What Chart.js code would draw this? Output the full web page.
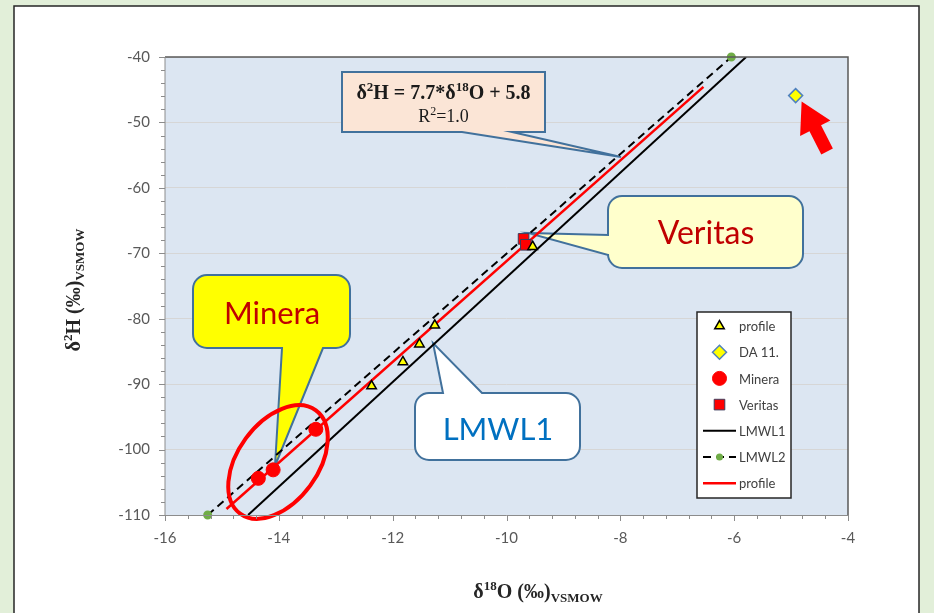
<!DOCTYPE html>
<html>
<head>
<meta charset="utf-8">
<script src="https://cdn.jsdelivr.net/npm/chart.js@4.4.1/dist/chart.umd.min.js"></script>
<style>
  html, body { margin: 0; padding: 0; background: #e2efd9; }
  canvas { display: block; }
</style>
</head>
<body>
<canvas id="c" width="934" height="613"></canvas>
<script>
// Isotope values, ‰ VSMOW: δ18O on x, δ2H on y
const profileO = [-12.37, -11.82, -11.53, -11.26, -9.54];
const profileH = [-90.3, -86.6, -83.9, -81.0, -69.0];
const da11O = [-4.92];
const da11H = [-45.9];
const mineraO = [-14.36, -14.10, -13.35];
const mineraH = [-104.4, -103.1, -96.9];
const veritasO = [-9.70, -9.66];
const veritasH = [-67.8, -68.7];
// local meteoric water lines (end points)
const lmwl1O = [-14.54, -5.79];
const lmwl1H = [-110, -40];
const lmwl2O = [-15.25, -6.05];
const lmwl2H = [-110, -40];
// profile regression δ2H = 7.7*δ18O + 5.8 (end points)
const fitO = [-14.92, -6.54];
const fitH = [-109.08, -44.56];
// axis ticks
const xTicks = [-16, -14, -12, -10, -8, -6, -4];
const yTicks = [-110, -100, -90, -80, -70, -60, -50, -40];

const pts = (xs, ys) => xs.map((x, i) => ({ x: x, y: ys[i] }));

const SANS = 'Lato, "Open Sans", sans-serif';
const SERIF = '"Liberation Serif", "DejaVu Serif", serif';
Chart.defaults.font.family = SANS;

// ---------- drawing helpers ----------
function richWidth(ctx, segs) {
  let w = 0;
  segs.forEach(s => { ctx.font = s.font; w += ctx.measureText(s.t).width; });
  return w;
}
function drawRich(ctx, segs, cx, baseline, color) {
  let x = cx - richWidth(ctx, segs) / 2;
  ctx.fillStyle = color;
  ctx.textAlign = 'left';
  ctx.textBaseline = 'alphabetic';
  segs.forEach(s => {
    ctx.font = s.font;
    ctx.fillText(s.t, x, baseline + (s.dy || 0));
    x += ctx.measureText(s.t).width;
  });
}
function callout(ctx, o) {
  const { x1, y1, x2, y2, r, side, a, b, tx, ty } = o;
  ctx.beginPath();
  ctx.moveTo(x1 + r, y1);
  if (side === 'top') { ctx.lineTo(a, y1); ctx.lineTo(tx, ty); ctx.lineTo(b, y1); }
  ctx.arcTo(x2, y1, x2, y2, r);
  ctx.arcTo(x2, y2, x1, y2, r);
  if (side === 'bottom') { ctx.lineTo(b, y2); ctx.lineTo(tx, ty); ctx.lineTo(a, y2); }
  ctx.arcTo(x1, y2, x1, y1, r);
  if (side === 'left') { ctx.lineTo(x1, b); ctx.lineTo(tx, ty); ctx.lineTo(x1, a); }
  ctx.arcTo(x1, y1, x2, y1, r);
  ctx.closePath();
  ctx.fillStyle = o.fill;
  ctx.fill();
  ctx.lineWidth = 2;
  ctx.strokeStyle = o.stroke;
  ctx.stroke();
  if (o.text) {
    ctx.font = o.font;
    ctx.fillStyle = o.color;
    ctx.textAlign = 'center';
    ctx.textBaseline = 'alphabetic';
    ctx.fillText(o.text, o.textX, o.textY);
  }
}

// ---------- plugins ----------
const frame = {
  id: 'frame',
  beforeDraw(chart) {
    const ctx = chart.ctx, ca = chart.chartArea;
    ctx.save();
    ctx.fillStyle = '#e2efd9';
    ctx.fillRect(0, 0, chart.width, chart.height);
    ctx.fillStyle = '#ffffff';
    ctx.fillRect(14, 6, 905, 620);
    ctx.strokeStyle = '#262626';
    ctx.lineWidth = 1.5;
    ctx.strokeRect(14, 6, 905, 620);
    ctx.fillStyle = '#dce6f2';
    ctx.fillRect(ca.left, ca.top, ca.right - ca.left, ca.bottom - ca.top);
    ctx.restore();
  }
};

const callouts = {
  id: 'callouts',
  beforeDatasetsDraw(chart) {
    const ctx = chart.ctx;
    ctx.save();
    // regression equation box
    callout(ctx, { x1: 342, y1: 72, x2: 545, y2: 132, r: 0, side: 'bottom', a: 462, b: 512,
      tx: 621, ty: 157, fill: '#fbe5d6', stroke: '#41719c' });
    drawRich(ctx, [
      { t: 'δ', font: 'bold 20px ' + SERIF },
      { t: '2', font: 'bold 13px ' + SERIF, dy: -8 },
      { t: 'H = 7.7*δ', font: 'bold 20px ' + SERIF },
      { t: '18', font: 'bold 13px ' + SERIF, dy: -8 },
      { t: 'O + 5.8', font: 'bold 20px ' + SERIF }
    ], 443.5, 99, '#1a1a1a');
    drawRich(ctx, [
      { t: 'R', font: '18px ' + SERIF },
      { t: '2', font: '12px ' + SERIF, dy: -7 },
      { t: '=1.0', font: '18px ' + SERIF }
    ], 443.5, 122, '#1a1a1a');

    callout(ctx, { x1: 608, y1: 196, x2: 803, y2: 268, r: 14, side: 'left', a: 235, b: 255,
      tx: 528, ty: 233, fill: '#ffffcc', stroke: '#41719c',
      text: 'Veritas', font: '32px ' + SANS, color: '#c00000', textX: 706, textY: 244 });

    callout(ctx, { x1: 193, y1: 275, x2: 350, y2: 348, r: 14, side: 'bottom', a: 282, b: 323,
      tx: 275, ty: 466, fill: '#ffff00', stroke: '#41719c',
      text: 'Minera', font: '31px ' + SANS, color: '#c00000', textX: 272, textY: 324 });

    callout(ctx, { x1: 415, y1: 393, x2: 580, y2: 460, r: 14, side: 'top', a: 443, b: 482,
      tx: 433, ty: 343, fill: '#ffffff', stroke: '#41719c',
      text: 'LMWL1', font: '31px ' + SANS, color: '#0070c0', textX: 498, textY: 440 });
    ctx.restore();
  },
  afterDatasetsDraw(chart) {
    const ctx = chart.ctx;
    const xs = chart.scales.x, ys = chart.scales.y;
    ctx.save();
    // ring around the Minera samples
    ctx.beginPath();
    ctx.ellipse(278, 462, 64, 40, -53.7 * Math.PI / 180, 0, Math.PI * 2);
    ctx.strokeStyle = '#ff0000';
    ctx.lineWidth = 4;
    ctx.stroke();

    // red arrow pointing at DA 11.
    const px = xs.getPixelForValue(da11O[0]) + 6, py = ys.getPixelForValue(da11H[0]) + 6;
    const ang = Math.atan2(49, 25);
    const ux = Math.cos(ang), uy = Math.sin(ang), vx = -uy, vy = ux;
    const P = (l, w) => [px + ux * l + vx * w, py + uy * l + vy * w];
    const poly = [P(0, 0), P(30, 17), P(30, 6.5), P(56, 6.5), P(56, -6.5), P(30, -6.5), P(30, -17)];
    ctx.beginPath();
    poly.forEach((p, i) => i ? ctx.lineTo(p[0], p[1]) : ctx.moveTo(p[0], p[1]));
    ctx.closePath();
    ctx.fillStyle = '#ff0000';
    ctx.fill();
    ctx.restore();
  },
  afterDraw(chart) {
    const ctx = chart.ctx, ca = chart.chartArea;
    const xs = chart.scales.x, ys = chart.scales.y;
    ctx.save();
    // plot-area frame
    ctx.strokeStyle = '#595959';
    ctx.lineWidth = 1.5;
    ctx.beginPath();
    ctx.moveTo(ca.left, ca.top); ctx.lineTo(ca.right, ca.top); ctx.lineTo(ca.right, ca.bottom);
    ctx.stroke();
    ctx.strokeStyle = '#8c8c8c';
    ctx.lineWidth = 1;
    ctx.beginPath();
    ctx.moveTo(ca.left, ca.top); ctx.lineTo(ca.left, ca.bottom + 0.5); ctx.lineTo(ca.right, ca.bottom + 0.5);
    ctx.stroke();
    // tick marks (minor every 0.4 ‰ on x, every 2 ‰ on y)
    ctx.beginPath();
    for (let i = 0; i <= 30; i++) {
      const v = xTicks[0] + i * 0.4;
      const x = Math.round(xs.getPixelForValue(v)) + 0.5;
      ctx.moveTo(x, ca.bottom); ctx.lineTo(x, ca.bottom + (i % 5 === 0 ? 6 : 4));
    }
    for (let i = 0; i <= 35; i++) {
      const v = yTicks[0] + i * 2;
      const y = Math.round(ys.getPixelForValue(v)) + 0.5;
      ctx.moveTo(ca.left, y); ctx.lineTo(ca.left - (i % 5 === 0 ? 6 : 4), y);
    }
    ctx.stroke();

    // axis titles
    drawRich(ctx, [
      { t: 'δ', font: 'bold 20px ' + SERIF },
      { t: '18', font: 'bold 13px ' + SERIF, dy: -8 },
      { t: 'O (‰)', font: 'bold 20px ' + SERIF },
      { t: 'VSMOW', font: 'bold 13px ' + SERIF, dy: 4 }
    ], 538, 598, '#262626');
    ctx.save();
    ctx.translate(80, 290);
    ctx.rotate(-Math.PI / 2);
    drawRich(ctx, [
      { t: 'δ', font: 'bold 20px ' + SERIF },
      { t: '2', font: 'bold 13px ' + SERIF, dy: -8 },
      { t: 'H (‰)', font: 'bold 20px ' + SERIF },
      { t: 'VSMOW', font: 'bold 13px ' + SERIF, dy: 4 }
    ], 0, 0, '#262626');
    ctx.restore();

    // legend
    const L = { x1: 697, y1: 312, x2: 791, y2: 498 };
    ctx.fillStyle = '#ffffff';
    ctx.fillRect(L.x1, L.y1, L.x2 - L.x1, L.y2 - L.y1);
    ctx.strokeStyle = '#262626';
    ctx.lineWidth = 1.5;
    ctx.strokeRect(L.x1, L.y1, L.x2 - L.x1, L.y2 - L.y1);
    ctx.font = '13px ' + SANS;
    ctx.textBaseline = 'middle';
    ctx.textAlign = 'left';
    chart.data.datasets.forEach((ds, i) => {
      const y = 326 + i * 26.2;
      if (ds.showLine) {
        ctx.save();
        ctx.strokeStyle = ds.borderColor;
        ctx.lineWidth = ds.borderWidth;
        ctx.setLineDash(ds.borderDash || []);
        ctx.beginPath();
        ctx.moveTo(703, y); ctx.lineTo(736, y);
        ctx.stroke();
        ctx.restore();
        if (ds.pointRadius > 0) {
          ctx.fillStyle = ds.pointBackgroundColor;
          ctx.beginPath(); ctx.arc(719.5, y, ds.pointRadius, 0, Math.PI * 2); ctx.fill();
        }
      } else {
        ctx.save();
        ctx.fillStyle = ds.backgroundColor;
        ctx.strokeStyle = ds.borderColor;
        ctx.lineWidth = ds.borderWidth;
        Chart.helpers.drawPoint(ctx, { pointStyle: ds.pointStyle, radius: ds.pointRadius, borderWidth: ds.borderWidth }, 719.5, y);
        ctx.restore();
      }
      ctx.fillStyle = '#404040';
      ctx.fillText(ds.label, 739, y + 1);
    });
    ctx.restore();
  }
};

// ---------- chart ----------
new Chart(document.getElementById('c'), {
  type: 'scatter',
  data: {
    datasets: [
      { label: 'profile', data: pts(profileO, profileH), pointStyle: 'triangle', pointRadius: 5.5,
        backgroundColor: '#ffff00', borderColor: '#000000', borderWidth: 1.5, order: 1 },
      { label: 'DA 11.', data: pts(da11O, da11H), pointStyle: 'rectRot', pointRadius: 7,
        backgroundColor: '#ffff00', borderColor: '#4f81bd', borderWidth: 1.5, order: 1, clip: false },
      { label: 'Minera', data: pts(mineraO, mineraH), pointStyle: 'circle', pointRadius: 7,
        backgroundColor: '#ff0000', borderColor: '#ff0000', borderWidth: 1, order: 1 },
      { label: 'Veritas', data: pts(veritasO, veritasH), pointStyle: 'rect', pointRadius: 7.5,
        backgroundColor: '#ff0000', borderColor: '#3c3c5c', borderWidth: 1, order: 1 },
      { label: 'LMWL1', data: pts(lmwl1O, lmwl1H), showLine: true, pointRadius: 0,
        borderColor: '#000000', borderWidth: 2, order: 5 },
      { label: 'LMWL2', data: pts(lmwl2O, lmwl2H), showLine: true, borderDash: [8, 5],
        pointRadius: 3.5, pointBackgroundColor: '#70ad47', pointBorderColor: '#70ad47',
        borderColor: '#000000', borderWidth: 2, order: 5, clip: false },
      { label: 'profile', data: pts(fitO, fitH), showLine: true, pointRadius: 0,
        borderColor: '#ff0000', borderWidth: 2.5, order: 4 }
    ]
  },
  options: {
    responsive: false,
    animation: false,
    devicePixelRatio: 1,
    layout: { padding: { left: 0, top: 57, right: 86, bottom: 0 } },
    plugins: { legend: { display: false }, tooltip: { enabled: false } },
    scales: {
      x: {
        type: 'linear', min: -16, max: -4,
        afterBuildTicks: s => { s.ticks = xTicks.map(v => ({ value: v })); },
        afterFit: s => { s.height = 98; },
        grid: { display: false, drawTicks: false },
        border: { display: false },
        ticks: { color: '#595959', font: { size: 15 }, padding: 14, maxRotation: 0 }
      },
      y: {
        type: 'linear', min: -110, max: -40,
        afterBuildTicks: s => { s.ticks = yTicks.map(v => ({ value: v })); },
        afterFit: s => { s.width = 165; },
        grid: { color: '#d6d6d6', lineWidth: 1, drawTicks: false },
        border: { display: false },
        ticks: { color: '#595959', font: { size: 15 }, padding: 15 }
      }
    }
  },
  plugins: [frame, callouts]
});
</script>
</body>
</html>
